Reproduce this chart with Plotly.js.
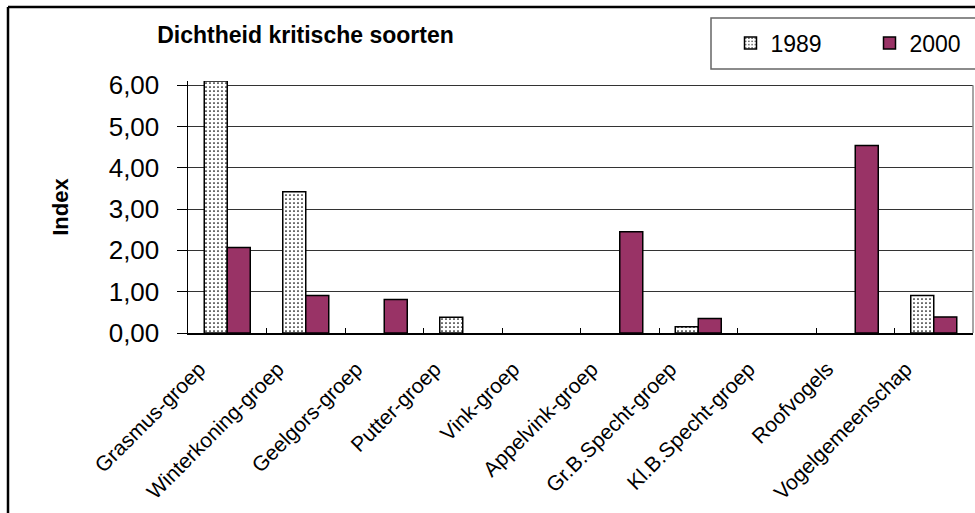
<!DOCTYPE html>
<html>
<head>
<meta charset="utf-8">
<script src="https://cdn.plot.ly/plotly-3.0.1.min.js"></script>
<style>
html,body{margin:0;padding:0;background:#fff;}
#chart{width:975px;height:513px;}
</style>
</head>
<body>
<div id="chart"></div>
<script>
// ---- data ----
const categories = ["Grasmus-groep","Winterkoning-groep","Geelgors-groep","Putter-groep","Vink-groep","Appelvink-groep","Gr.B.Specht-groep","Kl.B.Specht-groep","Roofvogels","Vogelgemeenschap"];
const values1989 = [6.10, 3.42, 0, 0.38, 0, 0, 0.15, 0, 0, 0.91];
const values2000 = [2.07, 0.91, 0.81, 0, 0, 2.45, 0.35, 0, 4.54, 0.39];
const seriesNames = ["1989","2000"];
const yTickVals = [0,1,2,3,4,5,6];
const yTickText = ["0,00","1,00","2,00","3,00","4,00","5,00","6,00"];
const chartTitle = "Dichtheid kritische soorten";
const yTitle = "Index";

// ---- layout geometry (pixels -> paper) ----
const L = 188, W = 785, B = 333, H = 252;
const px = x => (x - L) / W;
const py = y => (B - y) / H;
const outline = vals => vals.map(v => (v > 0 ? 1.5 : 0));

const traces = [
  {
    type: "bar", name: seriesNames[0], x: categories, y: values1989,
    marker: {color: "#ffffff", line: {color: "#000", width: outline(values1989)},
      pattern: {shape: ".", fgcolor: "#000", bgcolor: "#fff", size: 4, solidity: 0.15}},
    hoverinfo: "x+y"
  },
  {
    type: "bar", name: seriesNames[1], x: categories, y: values2000,
    marker: {color: "#993366", line: {color: "#000", width: outline(values2000)}},
    hoverinfo: "x+y"
  }
];

const layout = {
  width: 975, height: 513,
  margin: {l: L, r: 975 - L - W, t: B - H, b: 513 - B, pad: 0},
  paper_bgcolor: "#fff", plot_bgcolor: "#fff",
  font: {family: "Liberation Sans, Arial, sans-serif", color: "#000"},
  barmode: "group", bargap: 0.414, bargroupgap: 0,
  title: {
    text: "<b>" + chartTitle + "</b>",
    font: {family: "Liberation Sans, Arial, sans-serif", size: 23, color: "#000"},
    xref: "container", yref: "container", x: 305.5/975, y: 1 - 35/513,
    xanchor: "center", yanchor: "middle"
  },
  showlegend: true,
  legend: {
    orientation: "h", xref: "container", yref: "container",
    x: 730.5/975, y: 1 - 43/513, xanchor: "left", yanchor: "middle",
    font: {size: 23, color: "#000"}, bgcolor: "rgba(0,0,0,0)", borderwidth: 0,
    entrywidth: 94, itemwidth: 30
  },
  xaxis: {
    type: "category", tickson: "boundaries", ticks: "inside", ticklen: 5, tickwidth: 1,
    tickcolor: "#000", showline: true, linecolor: "#000", linewidth: 1.5,
    tickangle: -45, tickfont: {size: 21}, showgrid: false, zeroline: false,
    ticklabelstandoff: 14, ticklabelshift: -28, automargin: false,
    fixedrange: true
  },
  yaxis: {
    range: [0, 6.1], tickvals: yTickVals, ticktext: yTickText,
    ticks: "outside", ticklen: 10, tickwidth: 1, tickcolor: "#000",
    showline: true, linecolor: "#000", linewidth: 1.5,
    showgrid: true, gridcolor: "#333", gridwidth: 1, zeroline: false,
    tickfont: {size: 26}, ticklabelstandoff: 12, automargin: false,
    title: {text: "<b>" + yTitle + "</b>", font: {size: 22}, standoff: 34},
    fixedrange: true
  },
  shapes: [
    // plot area right border
    {type: "line", xref: "paper", yref: "y", x0: 1, x1: 1, y0: 0, y1: 6, line: {color: "#888", width: 1.5}},
    // legend box
    {type: "rect", xref: "paper", yref: "paper", x0: px(711), x1: px(990), y0: py(69), y1: py(18), line: {color: "#666", width: 1.5}},
    // chart outer border
    {type: "line", xref: "paper", yref: "paper", x0: px(8), x1: px(8), y0: py(7), y1: py(530), line: {color: "#000", width: 2.5}},
    {type: "line", xref: "paper", yref: "paper", x0: px(8), x1: px(990), y0: py(7), y1: py(7), line: {color: "#000", width: 2.5}}
  ]
};

Plotly.newPlot("chart", traces, layout, {displayModeBar: false, staticPlot: true});
</script>
</body>
</html>
